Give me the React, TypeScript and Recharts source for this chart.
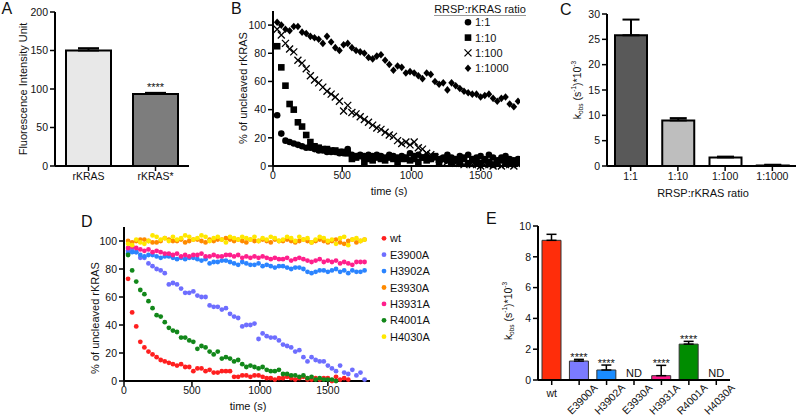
import React from 'react';
import {
  BarChart,
  Bar,
  Cell,
  XAxis,
  YAxis,
  ErrorBar,
  LabelList,
  ScatterChart,
  Scatter,
  Legend,
} from 'recharts';

const FONT = '"Liberation Sans", Arial, Helvetica, sans-serif';
const INK = '#111';

// Panel A: fluorescence of intact vs. cleaved substrate
const aNames = ['rKRAS', 'rKRAS*'];
const aValues = [150, 93.5];
const aErrors = [3, 1.5];
const aNotes = ['', '****'];
const aFills = ['#e8e8e8', '#7d7d7d'];

// Panels B and D share the sampling times (s)
const sampleTimes = [
  30, 60, 90, 120, 150, 180, 210, 240, 270, 300, 330, 360, 390, 420, 450, 480,
  510, 540, 570, 600, 630, 660, 690, 720, 750, 780, 810, 840, 870, 900, 930,
  960, 990, 1020, 1050, 1080, 1110, 1140, 1170, 1200, 1230, 1260, 1290, 1320,
  1350, 1380, 1410, 1440, 1470, 1500, 1530, 1560, 1590, 1620, 1650, 1680, 1710,
  1740, 1770,
];

// Panel B: % uncleaved rKRAS by RRSP:rKRAS ratio
const bRatios = ['1:1', '1:10', '1:100', '1:1000'];
const bRatio1 = [
  36, 23, 18, 17, 16, 15, 14, 13, 13, 12, 11, 11, 10, 10, 10, 9, 9, 12, 8, 7,
  8, 7, 8, 7, 8, 7, 6, 8, 7, 6, 7, 5, 9, 7, 8, 6, 7, 5, 6, 5, 6, 8, 6, 5, 7, 6,
  8, 5, 6, 7, 5, 8, 6, 4, 6, 7, 5, 4, 5,
];
const bRatio10 = [
  85, 70, 57, 44, 40, 31, 28, 22, 17, 14, 13, 12, 12, 11, 11, 10, 10, 9, 5, 6,
  7, 3, 5, 4, 6, 5, 4, 6, 5, 3, 5, 6, 4, 5, 3, 6, 4, 5, 7, 3, 5, 4, 2, 4, 3, 5,
  2, 4, 3, 2, 4, 3, 1, 2, 4, 3, 2, 3, 2,
];
const bRatio100 = [
  97, 93, 87, 83, 81, 75, 73, 69, 64, 61, 59, 56, 53, 51, 49, 46, 39, 43, 38,
  37, 35, 33, 31, 29, 27, 26, 24, 22, 21, 18, 16, 17, 15, 17, 13, 12, 9, 8, 6,
  5, 4, 3, 3, 2, 2, 1, 2, 1, 1, 0, 1, 1, 0, 1, 0, 1, 1, 0, 1,
];
const bRatio1000 = [
  102, 100, 97, 96, 99, 99, 95, 94, 92, 91, 90, 87, 92, 88, 84, 82, 86, 87, 84,
  82, 81, 80, 77, 76, 78, 79, 75, 72, 68, 71, 70, 66, 67, 66, 64, 62, 66, 65,
  60, 58, 59, 54, 59, 57, 55, 53, 52, 51, 51, 49, 50, 51, 48, 46, 48, 49, 44,
  42, 46,
];
const bSeries = [bRatio1, bRatio10, bRatio100, bRatio1000];

// Panel C: kobs by ratio
const cRatios = ['1:1', '1:10', '1:100', '1:1000'];
const cValues = [25.8, 9.0, 1.7, 0.1];
const cErrors = [3.1, 0.45, 0.15, 0.15];
const cFills = ['#595959', '#bebebe', '#ffffff', '#ffffff'];

// Panel D: % uncleaved rKRAS by mutant
const dMutants = ['wt', 'E3900A', 'H3902A', 'E3930A', 'H3931A', 'R4001A', 'H4030A'];
const dColors = ['#ff1f1f', '#6e6eff', '#2b84ff', '#ff8a00', '#ff1f8c', '#12871a', '#ffe800'];
const dWt = [
  73, 49, 39, 28, 24, 21, 19, 17, 15, 14, 13, 12, 11, 12, 10, 10, 7, 9, 9, 7,
  8, 6, 6, 7, 7, 7, 3, 3, 4, 4, 3, 4, 4, 3, 2, 2, 1, 2, 2, 3, 2, 1, 2, 3, 1, 1,
  2, 1, 2, 2, 0, 3, 1, 2, 1,
];
const dE3900A = [
  93, 94, 92, 88, 88, 84, 82, 80, 79, 77, 69, 70, 69, 66, 63, 63, 64, 61, 60,
  60, 54, 53, 53, 51, 52, 48, 46, 45, 39, 40, 40, 41, 30, 34, 32, 31, 31, 29,
  26, 25, 24, 21, 22, 17, 14, 17, 15, 14, 14, 11, 9, 7, 11, 6, 5, 8, 4, 6, 1,
];
const dH3902A = [
  91, 92, 92, 90, 89, 90, 90, 89, 88, 89, 89, 88, 87, 88, 87, 88, 88, 87, 86,
  87, 84, 85, 85, 86, 86, 85, 84, 83, 85, 84, 83, 83, 84, 82, 83, 82, 81, 82,
  82, 81, 80, 81, 81, 80, 78, 77, 78, 79, 79, 78, 79, 80, 78, 79, 77, 79, 78,
  78, 79,
];
const dE3930A = [
  100, 99, 100, 101, 101, 100, 99, 99, 100, 102, 101, 100, 100, 101, 99, 100,
  101, 101, 100, 99, 101, 100, 101, 101, 102, 101, 100, 101, 100, 99, 101, 100,
  100, 101, 100, 99, 101, 100, 100, 101, 100, 99, 100, 101, 100, 99, 100, 101,
  100, 99, 100, 101, 99, 98, 100, 101, 99, 100, 101,
];
const dH3931A = [
  95, 96, 95, 94, 93, 94, 92, 93, 92, 91, 91, 90, 91, 89, 90, 89, 90, 90, 91,
  89, 89, 90, 89, 89, 90, 90, 89, 90, 88, 89, 88, 89, 88, 89, 88, 87, 88, 87,
  87, 88, 86, 87, 88, 87, 86, 85, 86, 87, 85, 86, 85, 86, 84, 85, 84, 83, 85,
  85, 85,
];
const dR4001A = [
  90, 79, 71, 65, 62, 57, 52, 47, 46, 42, 38, 36, 35, 31, 31, 29, 28, 23, 25,
  24, 21, 19, 21, 16, 17, 16, 14, 15, 12, 10, 11, 10, 9, 10, 8, 7, 7, 8, 5, 5,
  4, 4, 3, 4, 2, 3, 1, 2, 1, 1, 1, 0,
];
const dH4030A = [
  98, 97, 101, 99, 98, 100, 104, 103, 101, 102, 100, 103, 101, 102, 104, 103,
  101, 102, 104, 103, 100, 102, 103, 101, 99, 103, 102, 101, 103, 102, 101, 103,
  100, 102, 101, 103, 102, 100, 101, 103, 102, 100, 103, 101, 102, 99, 101, 103,
  102, 100, 101, 98, 102, 103, 97, 101, 102, 100, 101,
];
const dSeries = [dWt, dE3900A, dH3902A, dE3930A, dH3931A, dR4001A, dH4030A];

// Panel E: kobs by mutant
const eValues = [9.07, 1.23, 0.65, 0, 0.28, 2.33, 0];
const eErrors = [0.39, 0.11, 0.32, 0, 0.67, 0.18, 0];
const eNotes = ['', '****', '****', 'ND', '****', '****', 'ND'];
const eFills = ['#ff2d0a', '#7b7bff', '#1a8cff', '#ff8a00', '#ff1a8c', '#008c00', '#ffe800'];

const toPoints = (vals: number[]) => vals.map((v, i) => ({ t: sampleTimes[i], v }));

const axisLine = { stroke: '#000', strokeWidth: 2 };
const tickLine = { stroke: '#000', strokeWidth: 1.5 };
const tickStyle = { fontSize: 10.5, fontFamily: FONT, fill: INK };

const vTitle = (x: number, y: number, text: React.ReactNode, size = 11) => () => (
  <text
    x={x}
    y={y}
    transform={`rotate(-90 ${x} ${y})`}
    textAnchor="middle"
    dominantBaseline="central"
    fontSize={size}
    fontFamily={FONT}
    fill={INK}
  >
    {text}
  </text>
);

const hTitle = (x: number, y: number, text: string) => () => (
  <text x={x} y={y} textAnchor="middle" dominantBaseline="central" fontSize={11} fontFamily={FONT} fill={INK}>
    {text}
  </text>
);

const kobsText = (
  <>
    k<tspan fontSize={6.5} dy={2.5}>obs</tspan>
    <tspan dy={-2.5}> (s</tspan>
    <tspan fontSize={6.5} dy={-4}>-1</tspan>
    <tspan dy={4}>)*10</tspan>
    <tspan fontSize={6.5} dy={-4}>-3</tspan>
  </>
);

// significance marks above bars, placed from the bar geometry
const starLabel =
  (names: string[], values: number[], errors: number[], notes: string[], gap: number) =>
  (props: any) => {
    const vb = props.viewBox ?? props;
    const { x, y, width, height } = vb;
    const i = names.indexOf(props.value);
    if (i < 0 || !notes[i] || notes[i] === 'ND' || !(values[i] > 0)) return null;
    const cx = x + width / 2;
    const top = y - errors[i] * (height / values[i]);
    return (
      <text x={cx} y={top + gap} textAnchor="middle" fontSize={11} fontFamily={FONT} fill={INK}>
        {notes[i]}
      </text>
    );
  };

const bMarker = (i: number, cx: number, cy: number) => {
  if (i === 0) return <circle cx={cx} cy={cy} r={3.3} fill="#000" />;
  if (i === 1) return <rect x={cx - 3.3} y={cy - 3.3} width={6.6} height={6.6} fill="#000" />;
  if (i === 2)
    return (
      <path
        d={`M${cx - 3.5},${cy - 3.5}L${cx + 3.5},${cy + 3.5}M${cx - 3.5},${cy + 3.5}L${cx + 3.5},${cy - 3.5}`}
        stroke="#000"
        strokeWidth={1.3}
        fill="none"
      />
    );
  return <path d={`M${cx},${cy - 3.8}L${cx + 3.3},${cy}L${cx},${cy + 3.8}L${cx - 3.3},${cy}Z`} fill="#000" />;
};

const BLegend = () => (
  <svg width={100} height={76} style={{ display: 'block' }}>
    <text x={50} y={13} textAnchor="middle" fontSize={11} fontFamily={FONT} fill={INK}>
      RRSP:rKRAS ratio
    </text>
    <line x1={4} x2={96} y1={15.5} y2={15.5} stroke="#9a9a9a" strokeWidth={1} />
    {bRatios.map((r, i) => (
      <g key={r}>
        {bMarker(i, 38, 22.3 + i * 15.3)}
        <text x={45} y={22.3 + i * 15.3} dominantBaseline="central" fontSize={11} fontFamily={FONT} fill={INK}>
          {r}
        </text>
      </g>
    ))}
  </svg>
);

const DLegend = () => (
  <svg width={100} height={125} style={{ display: 'block' }}>
    {dMutants.map((m, i) => (
      <g key={m}>
        <circle cx={6} cy={8.3 + i * 16.4} r={2.4} fill={dColors[i]} />
        <text x={12} y={8.3 + i * 16.4} dominantBaseline="central" fontSize={11} fontFamily={FONT} fill={INK}>
          {m}
        </text>
      </g>
    ))}
  </svg>
);

// category tick for panel E: rotated name, plus "ND" above the axis where no rate was found
const ETick = (props: any) => {
  const { x, payload } = props;
  const axisY = 168;
  const i = dMutants.indexOf(payload.value);
  const nd =
    eNotes[i] === 'ND' ? (
      <text x={x} y={axisY - 3} textAnchor="middle" fontSize={11} fontFamily={FONT} fill={INK}>
        ND
      </text>
    ) : null;
  if (payload.value === 'wt') {
    return (
      <text x={x} y={axisY + 13} textAnchor="middle" dominantBaseline="central" fontSize={10.5} fontFamily={FONT} fill={INK}>
        wt
      </text>
    );
  }
  const cx = x + 3;
  const cy = axisY + 19;
  return (
    <g>
      {nd}
      <text
        x={cx}
        y={cy}
        transform={`rotate(-45 ${cx} ${cy})`}
        textAnchor="middle"
        dominantBaseline="central"
        fontSize={10.5}
        fontFamily={FONT}
        fill={INK}
      >
        {payload.value}
      </text>
    </g>
  );
};

function PanelA() {
  const data = aNames.map((name, i) => ({ name, value: aValues[i], err: [0, aErrors[i]] }));
  return (
    <BarChart width={200} height={200} data={data} margin={{ top: 12, right: 11, left: 0, bottom: 0 }}>
      <XAxis dataKey="name" interval={0} height={34} axisLine={axisLine} tickLine={tickLine} tickSize={5} tick={tickStyle} />
      <YAxis
        type="number"
        domain={[0, 200]}
        ticks={[0, 50, 100, 150, 200]}
        width={55}
        axisLine={axisLine}
        tickLine={tickLine}
        tickSize={5}
        tick={tickStyle}
        label={vTitle(23, 89, 'Fluorescence Intensity Unit')}
      />
      <Bar dataKey="value" barSize={45} stroke="#000" strokeWidth={2} isAnimationActive={false}>
        {data.map((d, i) => (
          <Cell key={d.name} fill={aFills[i]} />
        ))}
        <ErrorBar dataKey="err" width={10.5} stroke="#000" strokeWidth={2} direction="y" />
        <LabelList dataKey="name" content={starLabel(aNames, aValues, aErrors, aNotes, -1.5)} />
      </Bar>
    </BarChart>
  );
}

function PanelB() {
  return (
    <ScatterChart width={300} height={200} margin={{ top: 11, right: 2, left: 0, bottom: 0 }}>
      <XAxis
        type="number"
        dataKey="t"
        domain={[0, 1770]}
        ticks={[0, 500, 1000, 1500]}
        height={34}
        axisLine={axisLine}
        tickLine={tickLine}
        tickSize={5}
        tickMargin={1}
        tick={tickStyle}
        label={hTitle(169, 190.7, 'time (s)')}
      />
      <YAxis
        type="number"
        dataKey="v"
        domain={[0, 110]}
        ticks={[0, 20, 40, 60, 80, 100]}
        width={53}
        axisLine={axisLine}
        tickLine={tickLine}
        tickSize={5}
        tick={tickStyle}
        label={vTitle(23, 88, '% of uncleaved rKRAS')}
      />
      {bSeries.map((vals, i) => (
        <Scatter
          key={bRatios[i]}
          name={bRatios[i]}
          data={toPoints(vals)}
          isAnimationActive={false}
          shape={(p: any) => bMarker(i, p.cx, p.cy)}
        />
      ))}
      <Legend
        verticalAlign="middle"
        layout="horizontal"
        content={() => <BLegend />}
        wrapperStyle={{ left: 210, top: 0, width: 100, height: 76 }}
      />
    </ScatterChart>
  );
}

function PanelC() {
  const data = cRatios.map((name, i) => ({ name, value: cValues[i], err: [0, cErrors[i]] }));
  return (
    <BarChart width={260} height={200} data={data} margin={{ top: 14, right: 4, left: 0, bottom: 0 }}>
      <XAxis
        dataKey="name"
        interval={0}
        height={34}
        axisLine={axisLine}
        tickLine={tickLine}
        tickSize={5}
        tick={tickStyle}
        label={hTitle(163, 192.7, 'RRSP:rKRAS ratio')}
      />
      <YAxis
        type="number"
        domain={[0, 30]}
        ticks={[0, 5, 10, 15, 20, 25, 30]}
        width={67}
        axisLine={axisLine}
        tickLine={tickLine}
        tickSize={5}
        tick={tickStyle}
        label={vTitle(37, 90, kobsText, 10.5)}
      />
      <Bar dataKey="value" barSize={32} stroke="#000" strokeWidth={2} isAnimationActive={false}>
        {data.map((d, i) => (
          <Cell key={d.name} fill={cFills[i]} />
        ))}
        <ErrorBar dataKey="err" width={8.5} stroke="#000" strokeWidth={2} direction="y" />
      </Bar>
    </BarChart>
  );
}

function PanelD() {
  return (
    <ScatterChart width={420} height={205} margin={{ top: 12, right: 110, left: 0, bottom: 0 }}>
      <XAxis
        type="number"
        dataKey="t"
        domain={[0, 1810]}
        ticks={[0, 500, 1000, 1500]}
        height={39}
        axisLine={axisLine}
        tickLine={tickLine}
        tickSize={5}
        tickMargin={1}
        tick={tickStyle}
        label={hTitle(188, 190.7, 'time (s)')}
      />
      <YAxis
        type="number"
        dataKey="v"
        domain={[0, 110]}
        ticks={[0, 20, 40, 60, 80, 100]}
        width={64}
        axisLine={axisLine}
        tickLine={tickLine}
        tickSize={5}
        tick={tickStyle}
        label={vTitle(35, 103, '% of uncleaved rKRAS')}
      />
      {dSeries.map((vals, i) => (
        <Scatter
          key={dMutants[i]}
          name={dMutants[i]}
          data={toPoints(vals)}
          isAnimationActive={false}
          shape={(p: any) => <circle cx={p.cx} cy={p.cy} r={2.4} fill={dColors[i]} />}
        />
      ))}
      <Legend
        verticalAlign="middle"
        layout="horizontal"
        content={() => <DLegend />}
        wrapperStyle={{ left: 318, top: 15, width: 100, height: 125 }}
      />
    </ScatterChart>
  );
}

function PanelE() {
  const data = dMutants.map((name, i) => ({ name, value: eValues[i], err: [0, eErrors[i]] }));
  return (
    <BarChart width={300} height={208} data={data} margin={{ top: 14, right: 50, left: 0, bottom: 0 }}>
      <XAxis
        dataKey="name"
        interval={0}
        height={40}
        axisLine={axisLine}
        tickLine={tickLine}
        tickSize={5}
        tick={(p: any) => <ETick {...p} />}
      />
      <YAxis
        type="number"
        domain={[0, 10]}
        ticks={[0, 2, 4, 6, 8, 10]}
        width={58}
        axisLine={axisLine}
        tickLine={tickLine}
        tickSize={5}
        tick={tickStyle}
        label={vTitle(28, 99, kobsText, 10.5)}
      />
      <Bar dataKey="value" barSize={19} stroke="#333" strokeWidth={1} isAnimationActive={false}>
        {data.map((d, i) => (
          <Cell key={d.name} fill={eFills[i]} />
        ))}
        <ErrorBar dataKey="err" width={5} stroke="#000" strokeWidth={1.5} direction="y" />
        <LabelList dataKey="name" content={starLabel(dMutants, eValues, eErrors, eNotes, 2)} />
      </Bar>
    </BarChart>
  );
}

const letterStyle = { fontSize: 16, fontFamily: FONT, fill: INK };

export default function App() {
  return (
    <div style={{ position: 'absolute', left: 0, top: 0, width: 800, height: 420, background: '#fff' }}>
      <div style={{ position: 'absolute', left: 0, top: 0 }}>
        <PanelA />
      </div>
      <div style={{ position: 'absolute', left: 220, top: 0 }}>
        <PanelB />
      </div>
      <div style={{ position: 'absolute', left: 540, top: 0 }}>
        <PanelC />
      </div>
      <div style={{ position: 'absolute', left: 60, top: 215 }}>
        <PanelD />
      </div>
      <div style={{ position: 'absolute', left: 480, top: 212 }}>
        <PanelE />
      </div>
      <svg
        width={800}
        height={420}
        style={{ position: 'absolute', left: 0, top: 0, pointerEvents: 'none' }}
      >
        <text x={1.5} y={14.2} {...letterStyle}>A</text>
        <text x={231} y={13.8} {...letterStyle}>B</text>
        <text x={560} y={14.5} {...letterStyle}>C</text>
        <text x={81} y={226.7} {...letterStyle}>D</text>
        <text x={486} y={223.5} {...letterStyle}>E</text>
      </svg>
    </div>
  );
}
